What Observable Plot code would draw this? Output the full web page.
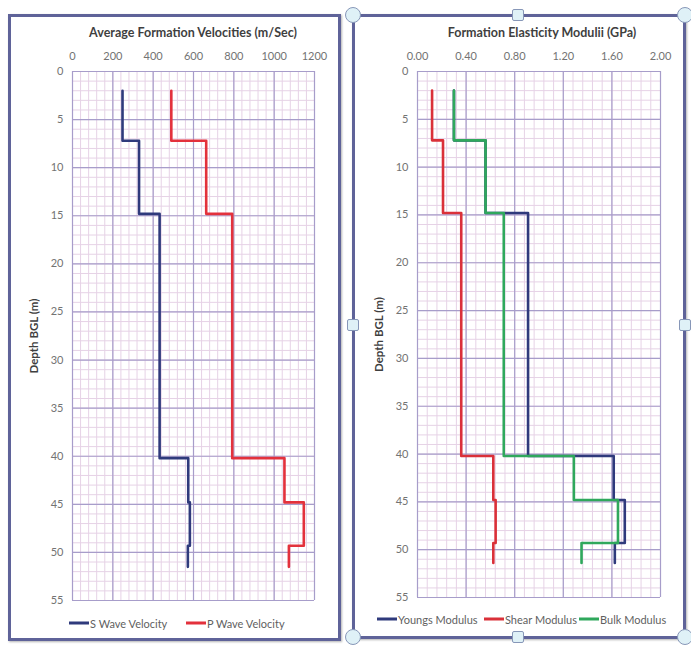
<!DOCTYPE html>
<html><head><meta charset="utf-8">
<script src="https://cdn.jsdelivr.net/npm/d3@7"></script>
<script src="https://cdn.jsdelivr.net/npm/@observablehq/plot@0.6"></script>
<style>
html,body{margin:0;padding:0;background:#fff;}
body{width:691px;height:647px;position:relative;overflow:hidden;font-family:Lato,"Open Sans",sans-serif;}
.frame{position:absolute;border:3px solid #5f6399;box-sizing:border-box;box-shadow:1px 1px 2px rgba(0,0,0,0.3);}
.title{position:absolute;font-weight:bold;font-size:12.5px;color:#3f3f3f;white-space:nowrap;transform:translate(-50%,-50%);}
.chart{position:absolute;}
.leg{position:absolute;font-size:11px;color:#5f5f5f;white-space:nowrap;display:flex;align-items:center;transform:translateY(-50%);}
.leg .sw{display:inline-block;width:20px;height:3px;margin-right:1px;}
.hc{position:absolute;width:14px;height:14px;border-radius:50%;background:#dff1f7;border:1.5px solid #8797b8;transform:translate(-50%,-50%);}
.hs{position:absolute;width:10px;height:10px;border-radius:2px;background:#dff1f7;border:1.5px solid #8797b8;transform:translate(-50%,-50%);}
svg [aria-label="y-axis label"] text, svg [aria-label="y-axis label"]{font-weight:bold;fill:#3f3f3f;font-size:11.5px;}
</style>
</head><body>
<script>
// ---- data ----
const velDepths = [2, 7.2, 14.8, 40.2, 44.8, 49.3, 51.5];   // layer boundaries (m)
const sWave = [248, 330, 432, 574, 582, 572];                // m/s
const pWave = [490, 663, 792, 1051, 1147, 1073];             // m/s
const modDepths = [2, 7.2, 14.8, 40.2, 44.8, 49.3, 51.4];
const youngs = [0.30, 0.56, 0.91, 1.615, 1.706, 1.624];      // GPa
const shear = [0.12, 0.21, 0.36, 0.624, 0.643, 0.624];
const bulk = [0.30, 0.56, 0.71, 1.287, 1.65, 1.35];
const velTicks = [0, 200, 400, 600, 800, 1000, 1200];
const modTicks = [0, 0.4, 0.8, 1.2, 1.6, 2.0];
const depthTicks = [0, 5, 10, 15, 20, 25, 30, 35, 40, 45, 50, 55];
const velTitle = "Average Formation Velocities (m/Sec)";
const modTitle = "Formation Elasticity Modulii (GPa)";
const yLabel = "Depth BGL (m)";

const root = document.body;

function stepPoints(depths, vals) {
  const pts = [];
  vals.forEach((v, i) => { pts.push({x: v, y: depths[i]}); pts.push({x: v, y: depths[i + 1]}); });
  return pts;
}

function makeChart(o) {
  const minorX = d3.range(0, o.nMinor + 1).map(i => o.domainX[0] + i * (o.domainX[1] - o.domainX[0]) / o.nMinor);
  const minorY = d3.range(0, 56, 1);
  return Plot.plot({
    width: o.width, height: o.height,
    marginLeft: o.ml, marginRight: o.mr, marginTop: o.mt, marginBottom: o.mb,
    style: {fontFamily: "Lato, 'Open Sans', sans-serif", fontSize: "11px", color: "#737373", background: "transparent", overflow: "visible"},
    x: {domain: o.domainX, axis: "top", ticks: o.ticks, tickSize: 0, tickPadding: 12, tickFormat: o.fmt, label: null},
    y: {domain: [0, 55], reverse: true, ticks: depthTicks, tickSize: 0, tickPadding: 9, label: yLabel, labelAnchor: "center", labelOffset: 43, labelArrow: "none"},
    marks: [
      Plot.ruleX(minorX, {stroke: "#e6d2e6", strokeWidth: 1}),
      Plot.ruleY(minorY, {stroke: "#e6d2e6", strokeWidth: 1}),
      Plot.ruleX(o.ticks, {stroke: "#a79dca", strokeWidth: 1.2}),
      Plot.ruleY(depthTicks, {stroke: "#a79dca", strokeWidth: 1.2}),
      ...o.series.map(s => Plot.line(stepPoints(o.depths, s.values), {x: "x", y: "y", stroke: s.color, strokeWidth: 2.6}))
    ]
  });
}

function place(el, left, top) { el.classList.add("chart"); el.style.left = left + "px"; el.style.top = top + "px"; root.appendChild(el); }

function div(cls, css, html) {
  const d = document.createElement("div"); d.className = cls;
  Object.assign(d.style, css); if (html != null) d.innerHTML = html; root.appendChild(d); return d;
}

// frames
div("frame", {left: "8px", top: "14px", width: "333px", height: "627px"});
div("frame", {left: "352px", top: "14px", width: "334px", height: "625px"});

// left chart
const left = makeChart({
  width: 314, height: 570, ml: 62, mr: 10, mt: 31, mb: 10,
  domainX: [0, 1200], ticks: velTicks, nMinor: 30, fmt: d => String(d),
  depths: velDepths,
  series: [{values: sWave, color: "#2f3a7c"}, {values: pWave, color: "#e3313c"}]
});
place(left, 10, 40);

// right chart
const right = makeChart({
  width: 315, height: 567, ml: 62, mr: 10, mt: 31, mb: 10,
  domainX: [0, 2], ticks: modTicks, nMinor: 25, fmt: d => d.toFixed(2),
  depths: modDepths,
  series: [{values: youngs, color: "#2f3a7c"}, {values: shear, color: "#da3039"}, {values: bulk, color: "#2fa85c"}]
});
place(right, 355, 40);

// titles
div("title", {left: "193px", top: "32px"}, velTitle);
div("title", {left: "542px", top: "32px"}, modTitle);

// legends
function legItem(x, y, color, label) {
  div("leg", {left: x + "px", top: y + "px"}, `<span class="sw" style="background:${color}"></span>${label}`);
}
legItem(69, 623, "#2f3a7c", "S Wave Velocity");
legItem(186, 623, "#e3313c", "P Wave Velocity");
legItem(377, 619, "#2f3a7c", "Youngs Modulus");
legItem(484, 619, "#da3039", "Shear Modulus");
legItem(579, 619, "#2fa85c", "Bulk Modulus");

// selection handles on the right frame
[[353, 15], [685, 15], [353, 637], [685, 637]].forEach(([x, y]) => div("hc", {left: x + "px", top: y + "px"}));
[[518, 15], [518, 637], [353, 325], [685, 325]].forEach(([x, y]) => div("hs", {left: x + "px", top: y + "px"}));
</script>
</body></html>
